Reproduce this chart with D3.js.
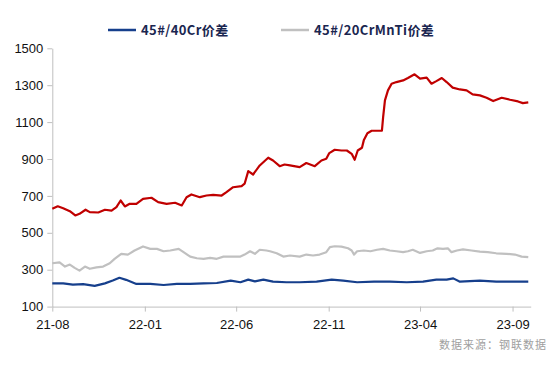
<!DOCTYPE html>
<html>
<head>
<meta charset="utf-8">
<script src="https://cdn.jsdelivr.net/npm/d3@7"></script>
<style>
  body { margin: 0; background: #fff; }
  svg { display: block; font-family: "Liberation Sans", Arial, sans-serif; }
</style>
</head>
<body>
<svg width="554" height="366"></svg>
<script>
// series values
var redDates = ["2021-08-01","2021-08-10","2021-08-19","2021-08-30","2021-09-08","2021-09-15","2021-09-25","2021-10-02","2021-10-16","2021-10-27","2021-11-07","2021-11-15","2021-11-22","2021-11-29","2021-12-07","2021-12-18","2021-12-29","2022-01-12","2022-01-23","2022-02-06","2022-02-20","2022-03-03","2022-03-11","2022-03-19","2022-04-02","2022-04-13","2022-04-24","2022-05-08","2022-05-16","2022-05-27","2022-06-10","2022-06-15","2022-06-21","2022-06-29","2022-07-10","2022-07-24","2022-08-01","2022-08-12","2022-08-20","2022-08-29","2022-09-14","2022-09-25","2022-10-09","2022-10-20","2022-10-28","2022-11-02","2022-11-11","2022-11-22","2022-12-01","2022-12-09","2022-12-14","2022-12-19","2022-12-26","2022-12-29","2023-01-04","2023-01-11","2023-01-28","2023-01-30","2023-02-02","2023-02-07","2023-02-13","2023-02-21","2023-03-04","2023-03-12","2023-03-23","2023-04-01","2023-04-12","2023-04-20","2023-04-28","2023-05-07","2023-05-15","2023-05-25","2023-06-06","2023-06-17","2023-06-27","2023-07-09","2023-07-20","2023-07-31","2023-08-14","2023-08-28","2023-09-10","2023-09-18","2023-09-27"];
var redValues = [630,644,633,617,594,603,625,612,610,625,620,639,675,643,657,657,684,690,666,657,663,648,693,708,693,702,706,702,720,747,753,766,834,816,865,907,892,861,870,865,856,878,861,892,901,932,950,946,946,928,896,946,961,1001,1040,1053,1053,1127,1218,1272,1308,1317,1326,1339,1359,1336,1341,1308,1322,1339,1317,1287,1277,1272,1250,1245,1232,1214,1232,1221,1212,1203,1207];

var cr40Dates = ["2021-08-01","2021-08-19","2021-09-04","2021-09-21","2021-10-10","2021-10-27","2021-11-09","2021-11-20","2021-12-01","2021-12-18","2022-01-10","2022-02-01","2022-02-23","2022-03-17","2022-04-08","2022-04-30","2022-05-23","2022-06-08","2022-06-21","2022-07-02","2022-07-16","2022-08-01","2022-08-23","2022-09-14","2022-10-12","2022-11-06","2022-11-25","2022-12-18","2023-01-15","2023-02-10","2023-03-10","2023-04-06","2023-04-28","2023-05-15","2023-05-26","2023-06-06","2023-07-09","2023-08-05","2023-09-02","2023-09-27"];
var cr40Values = [226,226,219,222,212,226,241,256,245,223,223,217,223,223,226,228,241,232,246,237,246,235,232,232,235,246,241,232,235,235,232,235,246,246,253,235,241,235,235,235];

var crmnDates = ["2021-08-01","2021-08-13","2021-08-22","2021-08-30","2021-09-07","2021-09-15","2021-09-24","2021-10-02","2021-10-13","2021-10-24","2021-11-04","2021-11-12","2021-11-23","2021-12-04","2021-12-15","2021-12-29","2022-01-10","2022-01-21","2022-02-01","2022-02-12","2022-02-26","2022-03-06","2022-03-17","2022-03-28","2022-04-08","2022-04-19","2022-04-30","2022-05-11","2022-05-25","2022-06-08","2022-06-15","2022-06-24","2022-07-02","2022-07-10","2022-07-21","2022-07-27","2022-08-07","2022-08-18","2022-08-29","2022-09-14","2022-09-25","2022-10-06","2022-10-17","2022-10-28","2022-11-03","2022-11-11","2022-11-22","2022-12-03","2022-12-09","2022-12-13","2022-12-18","2022-12-29","2023-01-09","2023-01-20","2023-01-30","2023-02-10","2023-02-21","2023-03-04","2023-03-12","2023-03-20","2023-04-01","2023-04-12","2023-04-22","2023-04-30","2023-05-09","2023-05-17","2023-05-23","2023-06-01","2023-06-11","2023-06-25","2023-07-09","2023-07-22","2023-08-05","2023-08-22","2023-09-05","2023-09-16","2023-09-27"];
var crmnValues = [335,340,317,328,310,295,317,305,313,317,335,359,386,382,404,426,413,413,400,404,413,395,371,362,359,364,359,371,371,371,382,400,386,408,404,400,389,371,377,371,382,377,382,395,422,427,425,416,404,382,400,404,400,408,413,404,400,395,400,408,391,400,404,416,413,416,395,404,410,404,398,395,389,386,382,371,368];

var monthTicks = ["2021-08-01","2022-01-01","2022-06-01","2022-11-01","2023-04-01","2023-09-01"];
var yTicks = [100,300,500,700,900,1100,1300,1500];
var legendNames = ["45#/40Cr价差", "45#/20CrMnTi价差"];

var parse = d3.timeParse("%Y-%m-%d");
function pairs(dates, values) {
  return dates.map(function (d, i) { return { date: parse(d), value: values[i] }; });
}

var series = [
  { key: "red", color: "#c00000", data: pairs(redDates, redValues) },
  { key: "crmn", color: "#c0c0c0", data: pairs(crmnDates, crmnValues) },
  { key: "cr40", color: "#163f8c", data: pairs(cr40Dates, cr40Values) }
];

var svg = d3.select("svg");
var axisColor = "#bfbfbf";

var x = d3.scaleTime()
  .domain([parse("2021-08-01"), parse("2023-10-01")])
  .range([52.3, 530.7]);
var y = d3.scaleLinear()
  .domain([100, 1500])
  .range([306.6, 48.3]);

// axes
var xAxis = svg.append("g")
  .attr("transform", "translate(0," + y(100) + ")")
  .call(d3.axisBottom(x)
    .tickValues(monthTicks.map(parse))
    .tickFormat(d3.timeFormat("%y-%m"))
    .tickSize(5).tickSizeOuter(0).tickPadding(8));

var yAxis = svg.append("g")
  .attr("transform", "translate(" + x.range()[0] + ",0)")
  .call(d3.axisLeft(y)
    .tickValues(yTicks)
    .tickFormat(d3.format("d"))
    .tickSize(5).tickSizeOuter(0).tickPadding(4));

[xAxis, yAxis].forEach(function (g) {
  g.select(".domain").attr("stroke", axisColor);
  g.selectAll(".tick line").attr("stroke", axisColor);
  g.selectAll("text").attr("font-size", 13).attr("fill", "#111")
    .attr("font-family", "'Liberation Sans', Arial, sans-serif");
});

// lines
var line = d3.line()
  .x(function (d) { return x(d.date); })
  .y(function (d) { return y(d.value); });

svg.append("g").selectAll("path")
  .data(series)
  .join("path")
  .attr("fill", "none")
  .attr("stroke", function (d) { return d.color; })
  .attr("stroke-width", 2.2)
  .attr("stroke-linejoin", "round")
  .attr("d", function (d) { return line(d.data); });

// legend
var legend = [
  { name: legendNames[0], color: "#163f8c", x: 108 },
  { name: legendNames[1], color: "#c0c0c0", x: 281 }
];
var lg = svg.append("g").selectAll("g")
  .data(legend)
  .join("g")
  .attr("transform", function (d) { return "translate(" + d.x + ",30)"; });
lg.append("line")
  .attr("x1", 0).attr("x2", 28)
  .attr("stroke", function (d) { return d.color; })
  .attr("stroke-width", 2.5);
lg.append("text")
  .attr("x", 33).attr("dy", "0.36em")
  .attr("font-size", 13).attr("font-weight", "bold")
  .attr("font-family", "'Noto Sans CJK SC', sans-serif")
  .attr("fill", "#1a2650")
  .attr("letter-spacing", 0.4)
  .text(function (d) { return d.name; });

// source note
svg.append("text")
  .attr("x", 547).attr("y", 349)
  .attr("text-anchor", "end")
  .attr("font-size", 11)
  .attr("font-family", "'Noto Sans CJK SC', sans-serif")
  .attr("fill", "#a0a0a0")
  .attr("letter-spacing", 1)
  .text("数据来源：钢联数据");
</script>
</body>
</html>
